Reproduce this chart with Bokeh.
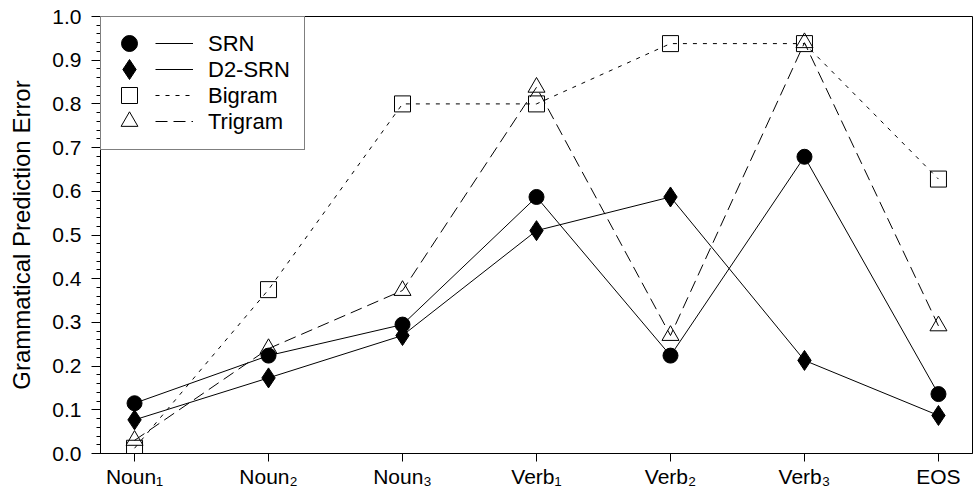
from bokeh.plotting import figure
from bokeh.models import Range1d, FixedTicker, Legend, LegendItem, PrintfTickFormatter
from bokeh.core.properties import value
from bokeh.embed import file_html
from bokeh.resources import INLINE

categories = ["Noun\u2081", "Noun\u2082", "Noun\u2083", "Verb\u2081", "Verb\u2082", "Verb\u2083", "EOS"]
srn = [0.115, 0.224, 0.295, 0.587, 0.224, 0.679, 0.136]
d2_srn = [0.077, 0.173, 0.270, 0.510, 0.587, 0.213, 0.087]
bigram = [0.012, 0.375, 0.800, 0.800, 0.938, 0.938, 0.628]
trigram = [0.030, 0.240, 0.373, 0.838, 0.270, 0.940, 0.292]
y_ticks = [0.0, 0.1, 0.2, 0.3, 0.4, 0.5, 0.6, 0.7, 0.8, 0.9, 1.0]
series_names = ["SRN", "D2-SRN", "Bigram", "Trigram"]

FONT = "Liberation Sans"
xs = list(range(len(categories)))

W, H = 976, 498
BL, BR, BT, BB = 100, 4, 16, 45
p = figure(width=W, height=H, output_backend="svg", toolbar_location=None,
           x_range=Range1d(-0.254, 6.254), y_range=Range1d(0.0, 1.0),
           min_border_left=BL, min_border_right=BR, min_border_top=BT, min_border_bottom=BB)
p.grid.visible = False
p.outline_line_color = "black"
p.outline_line_width = 1
p.background_fill_color = "white"

# axes
p.xaxis.ticker = FixedTicker(ticks=xs)
p.xaxis.major_label_overrides = {i: c for i, c in enumerate(categories)}
p.xaxis.major_tick_out = 8
p.xaxis.major_tick_in = 0
p.xaxis.minor_tick_out = 0
p.xaxis.major_label_standoff = 3
p.xaxis.major_label_text_font = FONT
p.xaxis.major_label_text_font_size = "21px"
p.xaxis.major_label_text_color = "black"

minor = [round(i * 0.02, 2) for i in range(51)]
p.yaxis.ticker = FixedTicker(ticks=y_ticks, minor_ticks=minor)
p.yaxis.formatter = PrintfTickFormatter(format="%.1f")
p.yaxis.major_tick_out = 9
p.yaxis.major_tick_in = 0
p.yaxis.minor_tick_out = 4
p.yaxis.minor_tick_in = 0
p.yaxis.major_label_standoff = 10
p.yaxis.major_label_text_font = FONT
p.yaxis.major_label_text_font_size = "21px"
p.yaxis.major_label_text_color = "black"
p.yaxis.axis_label = "Grammatical Prediction Error"
p.yaxis.axis_label_text_font = FONT
p.yaxis.axis_label_text_font_style = "normal"
p.yaxis.axis_label_text_font_size = "24px"
p.yaxis.axis_label_text_color = "black"
p.yaxis.axis_label_standoff = 14
for ax in (p.xaxis, p.yaxis):
    ax.axis_line_color = "black"
    ax.major_tick_line_color = "black"
    ax.minor_tick_line_color = "black"

# series
l_srn = p.line(xs, srn, line_color="black", line_width=1)
l_d2 = p.line(xs, d2_srn, line_color="black", line_width=1)
l_bi = p.line(xs, bigram, line_color="black", line_width=1, line_dash="4 6")
l_tri = p.line(xs, trigram, line_color="black", line_width=1, line_dash="12 6")

m_bi = p.scatter(xs, bigram, marker="square", size=16, fill_color=None, line_color="black", line_width=1)
m_tri = p.scatter(xs, trigram, marker="triangle", size=17, fill_color=None, line_color="black", line_width=1)
m_srn = p.scatter(xs, srn, marker="circle", size=15, fill_color="black", line_color="black")
m_d2 = p.scatter(xs, d2_srn, marker="diamond", size=20, fill_color="black", line_color="black")

markers = [m_srn, m_d2, m_bi, m_tri]
lines = [l_srn, l_d2, l_bi, l_tri]

# ---- legend: box + labels ----
PAD, ROW, GW = 14, 26, 40
dummy = p.line(x=[], y=[], line_alpha=0)
legend_box = Legend(items=[LegendItem(label=value(n), renderers=[dummy]) for n in series_names],
                    location="top_left", margin=0, padding=PAD, spacing=0,
                    glyph_width=GW, glyph_height=ROW, label_standoff=53,
                    label_text_font=FONT, label_text_font_size="22px", label_text_color="black",
                    border_line_color="black", border_line_width=1,
                    background_fill_color="white", background_fill_alpha=1.0)
p.add_layout(legend_box)

frame_h = H - BT - BB
# line swatches
legend_lines = Legend(items=[LegendItem(label=value(""), renderers=[l]) for l in lines],
                      location=(55, frame_h - PAD - 4 * ROW), margin=0, padding=0, spacing=0,
                      glyph_width=38, glyph_height=ROW, label_standoff=0, label_width=0,
                      border_line_color=None, background_fill_alpha=0.0)
p.add_layout(legend_lines)

# marker swatches (one legend per row so markers can be full size)
marker_glyph = [40, 50, 40, 42]
for i, (m, g) in enumerate(zip(markers, marker_glyph)):
    center_from_top = PAD + ROW * i + ROW / 2
    lg = Legend(items=[LegendItem(label=value(""), renderers=[m])],
                location=(29 - g / 2, frame_h - center_from_top - g / 2), margin=0, padding=0, spacing=0,
                glyph_width=g, glyph_height=g, label_standoff=0, label_width=0,
                border_line_color=None, background_fill_alpha=0.0)
    p.add_layout(lg)

open("out.html", "w").write(file_html(p, INLINE))
